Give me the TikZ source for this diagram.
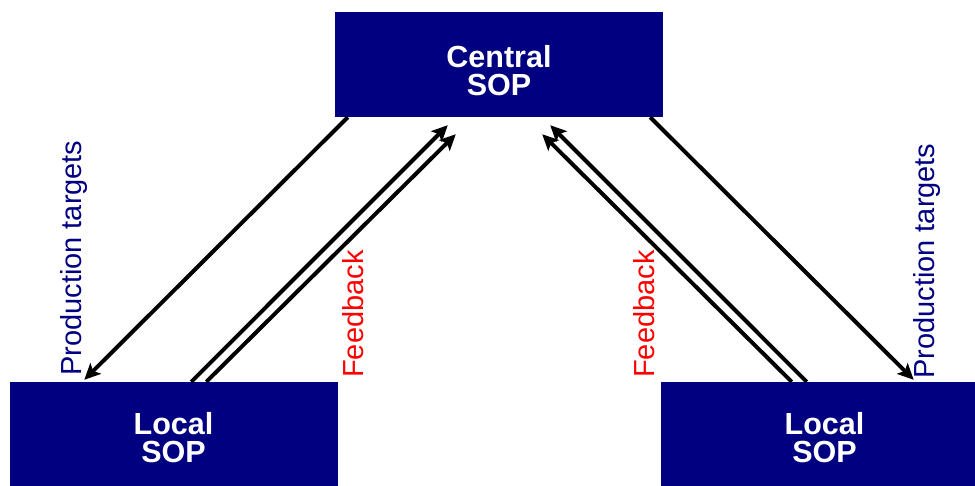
\documentclass[tikz,border=0pt]{standalone}
\usepackage{fontspec}
\setmainfont{Liberation Sans}
\usetikzlibrary{arrows.meta}
\definecolor{sopnavy}{HTML}{000080}
\definecolor{fbred}{HTML}{FF0000}
\begin{document}
\begin{tikzpicture}[x=1pt,y=-1pt,
  sopbox/.style={fill=sopnavy, draw=none, minimum width=328pt, minimum height=105pt, inner sep=0pt},
  soptext/.style={text=white, font=\bfseries\fontsize{30.5}{28}\selectfont, align=center, inner sep=0pt},
  flow/.style={line width=4pt, -{Stealth[length=16pt,width=15pt,inset=3.5pt]}},
  vlabel/.style={rotate=90, anchor=base west, inner sep=0pt, font=\fontsize{29}{29}\selectfont},
]
\useasboundingbox (0,0) rectangle (975,485);

% planning boxes
\node[sopbox] (C) at (499,64.5) {};
\node[sopbox] (L) at (173.5,434.5) {};
\node[sopbox] (R) at (824.5,434.5) {};
\node[soptext] (Ct) at (499,70.5) {Central\\SOP};
\node[soptext] (Lt) at (173.5,438) {Local\\SOP};
\node[soptext] (Rt) at (824.5,438) {Local\\SOP};

% production targets flowing down
\draw[flow] ([xshift=13pt]C.south west) -- ([xshift=75pt,yshift=2pt]L.north west);
\draw[flow] ([xshift=-13pt]C.south east) -- ([xshift=-75pt,yshift=2pt]R.north east);

% feedback flowing up (double lines)
\draw[flow] ([xshift=182pt]L.north west) -- ([xshift=113pt,yshift=-8pt]C.south west);
\draw[flow] ([xshift=197pt]L.north west) -- ([xshift=121pt,yshift=-17pt]C.south west);
\draw[flow] ([xshift=-182pt]R.north east) -- ([xshift=-113pt,yshift=-8pt]C.south east);
\draw[flow] ([xshift=-197pt]R.north east) -- ([xshift=-121pt,yshift=-17pt]C.south east);

% vertical labels
\node[vlabel, text=sopnavy] (ptL) at (81,376) {Production targets};
\node[vlabel, text=fbred] (fbL) at (363,378) {Feedback};
\node[vlabel, text=fbred] (fbR) at (654,378) {Feedback};
\node[vlabel, text=sopnavy] (ptR) at (934,379) {Production targets};
\end{tikzpicture}
\end{document}
